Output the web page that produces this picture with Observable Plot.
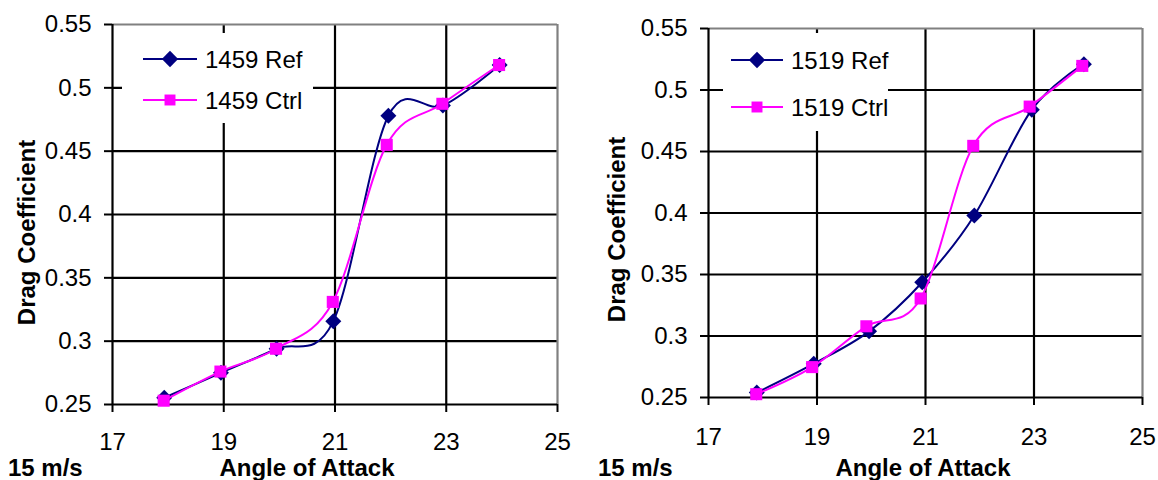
<!DOCTYPE html>
<html><head><meta charset="utf-8">
<script src="https://cdn.jsdelivr.net/npm/d3@7"></script>
<script src="https://cdn.jsdelivr.net/npm/@observablehq/plot@0.6"></script>
<style>
body{margin:0;background:#fff;}
#wrap{position:relative;width:1158px;height:480px;overflow:hidden;background:#fff;font-family:"Liberation Sans",Arial,sans-serif;}
.panel{position:absolute;top:0;}
#overlay{position:absolute;left:0;top:0;pointer-events:none;}
</style></head><body><div id="wrap"></div>
<script>
// ---- data ----
const xTicks = [17, 19, 21, 23, 25];
const yTicks = [0.25, 0.3, 0.35, 0.4, 0.45, 0.5, 0.55];
const xGrid = [19, 21, 23];
const yGrid = [0.3, 0.35, 0.4, 0.45, 0.5];
const xDomain = [17, 25];
const yDomain = [0.25, 0.55];

const angle1459Ref  = [17.93, 18.95, 19.95, 20.97, 21.96, 22.94, 23.96];
const cd1459Ref     = [0.2553, 0.2750, 0.2940, 0.3158, 0.4780, 0.4860, 0.5180];
const angle1459Ctrl = [17.92, 18.94, 19.94, 20.96, 21.93, 22.93, 23.95];
const cd1459Ctrl    = [0.2530, 0.2760, 0.2940, 0.3310, 0.4550, 0.4874, 0.5180];

const angle1519Ref  = [17.89, 18.94, 19.96, 20.94, 21.90, 22.96, 23.92];
const cd1519Ref     = [0.2540, 0.2775, 0.3038, 0.3437, 0.3980, 0.4840, 0.5210];
const angle1519Ctrl = [17.88, 18.91, 19.91, 20.91, 21.88, 22.92, 23.89];
const cd1519Ctrl    = [0.2527, 0.2747, 0.3079, 0.3305, 0.4546, 0.4865, 0.5196];

const seriesNames = [["1459 Ref", "1459 Ctrl"], ["1519 Ref", "1519 Ctrl"]];
const speedLabel = "15 m/s";
const xLabel = "Angle of Attack";
const yLabel = "Drag Coefficient";

const REF = "#000080", CTRL = "#FF00FF";
const toRows = (xs, ys) => xs.map((x, i) => ({x, y: ys[i]}));
const fmt = d => String(+d.toFixed(2));

function panel(o) {
  const ref = toRows(o.refX, o.refY), ctrl = toRows(o.ctrlX, o.ctrlY);
  return Plot.plot({
    width: o.width, height: 480,
    marginLeft: o.ml, marginRight: o.mr, marginTop: o.mt, marginBottom: o.mb,
    x: {domain: xDomain},
    y: {domain: yDomain},
    style: {fontFamily: '"Liberation Sans", Arial, sans-serif', fontSize: "24px", color: "#000", background: "transparent", overflow: "visible"},
    marks: [
      Plot.ruleX(xGrid, {stroke: "#000", strokeWidth: 2.2}),
      Plot.ruleY(yGrid, {stroke: "#000", strokeWidth: 2.2}),
      Plot.ruleY([yDomain[1]], {stroke: "#808080", strokeWidth: 2.2}),
      Plot.ruleX([xDomain[1]], {stroke: "#808080", strokeWidth: 2.2}),
      Plot.ruleX([xDomain[0]], {stroke: "#000", strokeWidth: 2.2}),
      Plot.ruleY([yDomain[0]], {stroke: "#000", strokeWidth: 2.2}),
      Plot.axisX({ticks: xTicks, tickSize: 8, tickPadding: o.xpad, tickFormat: fmt, label: null, strokeWidth: 2, fontSize: 24}),
      Plot.axisY({ticks: yTicks, tickSize: 8, tickPadding: 13, tickFormat: fmt, label: null, strokeWidth: 2, fontSize: 24}),
      Plot.line(ref, {x: "x", y: "y", curve: "cardinal", stroke: REF, strokeWidth: 2}),
      Plot.dot(ref, {x: "x", y: "y", symbol: "diamond2", r: 7.2, fill: REF, stroke: "none"}),
      Plot.line(ctrl, {x: "x", y: "y", curve: "cardinal", stroke: CTRL, strokeWidth: 2}),
      Plot.dot(ctrl, {x: "x", y: "y", symbol: "square", r: 6.8, fill: CTRL, stroke: "none"})
    ]
  });
}

const wrap = document.getElementById("wrap");
const p1 = panel({width: 580, ml: 112, mr: 23, mt: 24, mb: 76, xpad: 20,
  refX: angle1459Ref, refY: cd1459Ref, ctrlX: angle1459Ctrl, ctrlY: cd1459Ctrl});
p1.classList.add("panel"); p1.style.left = "0px";
wrap.appendChild(p1);
const p2 = panel({width: 578, ml: 128, mr: 16, mt: 28, mb: 83, xpad: 22,
  refX: angle1519Ref, refY: cd1519Ref, ctrlX: angle1519Ctrl, ctrlY: cd1519Ctrl});
p2.classList.add("panel"); p2.style.left = "580px";
wrap.appendChild(p2);

// ---- overlay: titles and legends ----
const svg = d3.select(wrap).append("svg").attr("id", "overlay")
  .attr("width", 1158).attr("height", 480)
  .style("font-family", '"Liberation Sans", Arial, sans-serif');

const layouts = [
  {box: [122, 33, 191, 90], rows: [59, 100], line: [143, 197], mark: 170, text: 205,
   yTitle: [26, 232.5], xTitle: [307, 476], speed: [8, 476]},
  {box: [723, 33, 165, 98], rows: [60, 107], line: [731, 783], mark: 757, text: 791,
   yTitle: [616, 229.5], xTitle: [923, 476], speed: [598, 476]}
];
layouts.forEach((L, i) => {
  svg.append("rect").attr("x", L.box[0]).attr("y", L.box[1]).attr("width", L.box[2]).attr("height", L.box[3]).attr("fill", "#fff");
  [REF, CTRL].forEach((c, j) => {
    const y = L.rows[j];
    svg.append("line").attr("x1", L.line[0]).attr("x2", L.line[1]).attr("y1", y).attr("y2", y).attr("stroke", c).attr("stroke-width", 2);
    svg.append("path").attr("transform", `translate(${L.mark},${y})`)
      .attr("d", d3.symbol(j === 0 ? d3.symbolDiamond2 : d3.symbolSquare, j === 0 ? 170 : 120)())
      .attr("fill", c);
    svg.append("text").attr("x", L.text).attr("y", y).attr("dy", "0.36em").attr("font-size", 24).text(seriesNames[i][j]);
  });
  svg.append("text").attr("transform", `translate(${L.yTitle[0]},${L.yTitle[1]}) rotate(-90)`)
    .attr("text-anchor", "middle").attr("dy", "0.36em").attr("font-size", 24).attr("font-weight", "bold").text(yLabel);
  svg.append("text").attr("x", L.xTitle[0]).attr("y", L.xTitle[1]).attr("text-anchor", "middle")
    .attr("font-size", 24).attr("font-weight", "bold").text(xLabel);
  svg.append("text").attr("x", L.speed[0]).attr("y", L.speed[1])
    .attr("font-size", 24).attr("font-weight", "bold").text(speedLabel);
});
</script></body></html>
